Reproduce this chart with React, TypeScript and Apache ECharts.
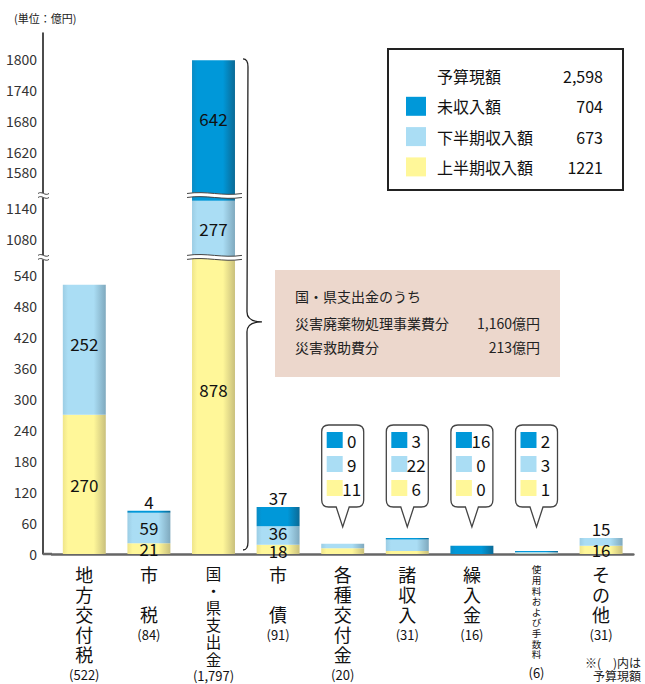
import React, { useEffect, useRef } from 'react';
import * as echarts from 'echarts';

const categories = ['地方交付税', '市税', '国・県支出金', '市債', '各種交付金', '諸収入', '繰入金', '使用料および手数料', 'その他'];
const budgetTotals = [522, 84, 1797, 91, 20, 31, 16, 6, 31];
const firstHalf = [270, 21, 878, 18, 11, 6, 0, 1, 16];
const secondHalf = [252, 59, 277, 36, 9, 22, 0, 3, 15];
const uncollected = [0, 4, 642, 37, 0, 3, 16, 2, 0];
const yTickValues = [0, 60, 120, 180, 240, 300, 360, 420, 480, 540, 1080, 1140, 1580, 1620, 1680, 1740, 1800];
const axisBreaks = [
  { start: 570, end: 1050 },
  { start: 1160, end: 1540 },
];
const calloutIndices = [4, 5, 6, 7];
const legendNames = ['予算現額', '未収入額', '下半期収入額', '上半期収入額'];
const legendValues = ['2,598', '704', '673', '1221'];
const noteTitle = '国・県支出金のうち';
const noteNames = ['災害廃棄物処理事業費分', '災害救助費分'];
const noteValues = ['1,160億円', '213億円'];

const firstHalfLabelPos = ['inside', 'inside', 'inside', 'inside', null, null, null, null, 'inside'];
const secondHalfLabelPos = ['inside', 'inside', 'inside', 'inside', null, null, null, null, 'top'];
const uncollectedLabelPos = [null, 'top', 'inside', 'top', null, null, null, null, null];

const YELLOW = '#FFF799';
const LIGHT = '#AADDF4';
const DARK = '#0098D9';
const FONT = '"Noto Sans CJK JP", "Noto Sans", sans-serif';
const AXIS_OFFSET = 9;

function shade(base: string, left: string, edge: string) {
  return new echarts.graphic.LinearGradient(0, 0, 1, 0, [
    { offset: 0, color: left },
    { offset: 0.12, color: base },
    { offset: 0.72, color: base },
    { offset: 1, color: edge },
  ]);
}

function barData(values: number[], pos: (string | null)[], offsets: Record<number, number[]> = {}) {
  return values.map((v, i) => ({
    value: v,
    label: pos[i] ? { show: true, position: pos[i], offset: offsets[i] || [0, 0] } : { show: false },
  }));
}

function wave(xL: number, xR: number, y: number) {
  const w = xR - xL;
  const top = `M${xL},${y - 2} C${xL + w * 0.35},${y - 5} ${xL + w * 0.65},${y + 1} ${xR},${y - 2}`;
  const bot = `M${xL},${y + 2} C${xL + w * 0.35},${y - 1} ${xL + w * 0.65},${y + 5} ${xR},${y + 2}`;
  const fill = `${top} L${xR},${y + 2} C${xL + w * 0.65},${y + 5} ${xL + w * 0.35},${y - 1} ${xL},${y + 2} Z`;
  return [
    { type: 'path', shape: { pathData: fill }, style: { fill: '#fff', stroke: null } },
    { type: 'path', shape: { pathData: top }, style: { fill: null, stroke: '#444', lineWidth: 1 } },
    { type: 'path', shape: { pathData: bot }, style: { fill: null, stroke: '#444', lineWidth: 1 } },
  ];
}

export default function App() {
  const ref = useRef<HTMLDivElement>(null);

  useEffect(() => {
    if (!ref.current) return;
    const chart = echarts.init(ref.current, null, { renderer: 'svg' });

    const labelBase = { fontSize: 17, color: '#111', distance: 1, fontFamily: FONT };

    const legendRows = legendNames.map((name, k) => {
      const cy = 76 + 30.3 * k;
      const items: any[] = [];
      if (k > 0) {
        items.push({
          type: 'rect',
          shape: { x: 406, y: cy - 9.5, width: 20, height: 19 },
          style: { fill: [DARK, LIGHT, YELLOW][k - 1] },
        });
      }
      items.push({
        type: 'text',
        style: { x: 437, y: cy, text: name, fontSize: 16, fill: '#111', verticalAlign: 'middle', fontFamily: FONT },
      });
      items.push({
        type: 'text',
        style: { x: 603, y: cy, text: legendValues[k], fontSize: 16, fill: '#111', align: 'right', verticalAlign: 'middle', fontFamily: FONT },
      });
      return items;
    }).flat();

    const option: any = {
      animation: false,
      textStyle: { fontFamily: FONT },
      grid: { left: 52, right: 11.6, top: 33, bottom: 130 },
      xAxis: {
        type: 'category',
        data: categories,
        axisTick: { show: false },
        axisLine: { lineStyle: { color: '#666', width: 2.5 } },
        axisLabel: {
          interval: 0,
          margin: 10,
          formatter: (name: string, index: number) => {
            const chars = Array.from(name);
            const small = chars.length > 6;
            const dense = name.includes('・');
            const st = small ? 's' : dense ? 'm' : 'c';
            const lines = chars.map((ch) => `{${st}|${ch}}`);
            if (chars.length === 2) lines.splice(1, 0, '{c|　}');
            lines.push(`{${small ? 'ns' : dense ? 'nm' : 'n'}|(${budgetTotals[index].toLocaleString('en-US')})}`);
            return lines.join('\n');
          },
          rich: {
            c: { fontSize: 18, lineHeight: 20, color: '#111', fontFamily: FONT },
            m: { fontSize: 15.5, lineHeight: 17.2, color: '#111', fontFamily: FONT },
            s: { fontSize: 9.6, lineHeight: 10.6, color: '#111', fontFamily: FONT },
            n: { fontSize: 13, lineHeight: 20, color: '#111', fontFamily: FONT },
            nm: { fontSize: 13, lineHeight: 17, color: '#111', fontFamily: FONT },
            ns: { fontSize: 13, lineHeight: 26, color: '#111', fontFamily: FONT },
          },
        },
      },
      yAxis: {
        type: 'value',
        min: 0,
        max: 1850,
        offset: AXIS_OFFSET,
        breaks: axisBreaks.map((b) => ({ start: b.start, end: b.end, gap: 10 })),
        breakArea: { show: false },
        axisLine: { show: true, lineStyle: { color: '#111', width: 1.5 } },
        axisTick: { show: false },
        splitLine: { show: false },
        axisLabel: {
          customValues: yTickValues,
          formatter: (v: number) => String(v),
          fontSize: 14,
          color: '#333',
          margin: 6,
          fontFamily: FONT,
        },
      },
      series: [
        {
          name: '上半期収入額',
          type: 'bar',
          stack: 'total',
          barWidth: '66.5%',
          itemStyle: { color: shade(YELLOW, '#EFE58A', '#C9C07C') },
          label: labelBase,
          data: barData(firstHalf, firstHalfLabelPos, { 2: [0, -16], 3: [0, 1] }),
        },
        {
          name: '下半期収入額',
          type: 'bar',
          stack: 'total',
          barWidth: '66.5%',
          itemStyle: { color: shade(LIGHT, '#9CCDE4', '#7FA9BE') },
          label: labelBase,
          data: barData(secondHalf, secondHalfLabelPos, { 0: [0, -6], 3: [0, -3] }),
        },
        {
          name: '未収入額',
          type: 'bar',
          stack: 'total',
          barWidth: '66.5%',
          itemStyle: { color: shade(DARK, '#0A8BC4', '#0B6A96') },
          label: labelBase,
          data: barData(uncollected, uncollectedLabelPos, { 2: [0, -12] }),
        },
        {
          name: 'decor',
          type: 'custom',
          silent: true,
          z: 9,
          clip: false,
          encode: { x: 0, y: 1 },
          data: [[2, 0]],
          renderItem: (params: any, api: any) => {
            const cs = params.coordSys;
            const idx = api.value(0);
            const [cx, y0] = api.coord([idx, 0]);
            const half = api.size([1, 0])[0] * 0.3325;
            const axisX = cs.x - AXIS_OFFSET;
            const children: any[] = [
              { type: 'line', shape: { x1: axisX, y1: y0, x2: cs.x, y2: y0 }, style: { stroke: '#666', lineWidth: 2.5 } },
            ];
            axisBreaks.forEach((b) => {
              const y = api.coord([idx, (b.start + b.end) / 2])[1];
              children.push(...wave(cx - half - 5, cx + half + 7, y));
              children.push(...wave(axisX - 5, axisX + 6, y));
            });
            const bx = cx + half + 8;
            const topY = api.coord([idx, 1800])[1];
            const botY = y0 - 4;
            const tipY = api.coord([idx, 450])[1];
            const brace = `M${bx},${topY} Q${bx + 5},${topY} ${bx + 5},${topY + 8} L${bx + 4},${tipY - 10} Q${bx + 4},${tipY} ${bx + 19},${tipY} Q${bx + 4},${tipY} ${bx + 4},${tipY + 10} L${bx + 5},${botY - 8} Q${bx + 5},${botY} ${bx},${botY}`;
            children.push({ type: 'path', shape: { pathData: brace }, style: { fill: null, stroke: '#222', lineWidth: 1.3 } });
            return { type: 'group', children };
          },
        },
        {
          name: 'callouts',
          type: 'custom',
          silent: true,
          z: 10,
          clip: false,
          encode: { x: 0, y: 1 },
          data: calloutIndices.map((i) => [i, uncollected[i], secondHalf[i], firstHalf[i]]),
          renderItem: (params: any, api: any) => {
            const idx = api.value(0);
            const [cx, y0] = api.coord([idx, 0]);
            const top = y0 - 129;
            const bot = y0 - 47;
            const tip = y0 - 27;
            const x0 = cx - 21;
            const x1 = cx + 21;
            const r = 7;
            const d = `M${x0 + r},${top} H${x1 - r} Q${x1},${top} ${x1},${top + r} V${bot - r} Q${x1},${bot} ${x1 - r},${bot} H${cx + 6.5} L${cx},${tip} L${cx - 6.5},${bot} H${x0 + r} Q${x0},${bot} ${x0},${bot - r} V${top + r} Q${x0},${top} ${x0 + r},${top} Z`;
            const colors = [DARK, LIGHT, YELLOW];
            const children: any[] = [
              { type: 'path', shape: { pathData: d }, style: { fill: '#fff', stroke: '#444', lineWidth: 1.3 } },
            ];
            for (let k = 0; k < 3; k++) {
              const c = top + 15 + 24 * k;
              children.push({ type: 'rect', shape: { x: x0 + 5, y: c - 8, width: 16, height: 16 }, style: { fill: colors[k] } });
              children.push({
                type: 'text',
                style: { x: cx + 9, y: c, text: String(api.value(k + 1)), fontSize: 17, fill: '#111', align: 'center', verticalAlign: 'middle', fontFamily: FONT },
              });
            }
            return { type: 'group', children };
          },
        },
      ],
      graphic: [
        {
          type: 'text',
          style: { x: 14, y: 18, text: '(単位：億円)', fontSize: 11, fill: '#222', verticalAlign: 'middle', fontFamily: FONT },
        },
        {
          type: 'group',
          children: [
            { type: 'rect', shape: { x: 388, y: 49, width: 235, height: 141 }, style: { fill: '#fff', stroke: '#222', lineWidth: 2 } },
            ...legendRows,
          ],
        },
        {
          type: 'group',
          children: [
            { type: 'rect', shape: { x: 275, y: 270, width: 285, height: 107 }, style: { fill: '#ECD7CC' } },
            { type: 'text', style: { x: 295, y: 296, text: noteTitle, fontSize: 14, fill: '#222', verticalAlign: 'middle', fontFamily: FONT } },
            ...noteNames.map((n, k) => ({ type: 'text', style: { x: 295, y: 323 + 24 * k, text: n, fontSize: 14, fill: '#222', verticalAlign: 'middle', fontFamily: FONT } })),
            ...noteValues.map((v, k) => ({ type: 'text', style: { x: 540, y: 323 + 24 * k, text: v, fontSize: 14, fill: '#222', align: 'right', verticalAlign: 'middle', fontFamily: FONT } })),
          ],
        },
        { type: 'text', style: { x: 641, y: 662, text: '※(　)内は', fontSize: 12, fill: '#222', align: 'right', verticalAlign: 'middle', fontFamily: FONT } },
        { type: 'text', style: { x: 641, y: 675, text: '予算現額', fontSize: 12, fill: '#222', align: 'right', verticalAlign: 'middle', fontFamily: FONT } },
      ],
    };

    chart.setOption(option);
    return () => chart.dispose();
  }, []);

  return <div ref={ref} style={{ position: 'fixed', left: 0, top: 0, width: 645, height: 684, background: '#fff' }} />;
}
